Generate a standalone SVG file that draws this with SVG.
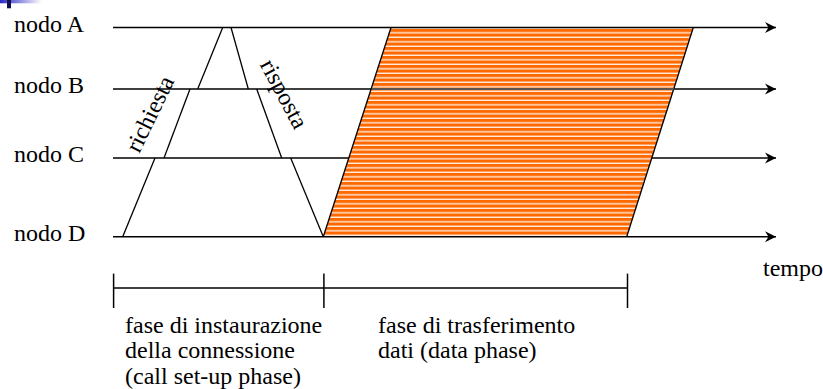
<svg xmlns="http://www.w3.org/2000/svg" width="823" height="389" viewBox="0 0 823 389">
  <defs>
    <linearGradient id="deco" x1="0" y1="0" x2="1" y2="0">
      <stop offset="0" stop-color="#2a2ac4"/>
      <stop offset="1" stop-color="#ffffff"/>
    </linearGradient>
    <pattern id="stripes" patternUnits="userSpaceOnUse" x="0" y="29" width="10" height="4.5">
      <rect x="0" y="0" width="10" height="4.5" fill="#ff6a00"/>
      <rect x="0" y="3.2" width="10" height="1.2" fill="#ffffff"/>
    </pattern>
    <marker id="arrow" markerUnits="userSpaceOnUse" viewBox="0 0 12 12" refX="11" refY="6" markerWidth="12" markerHeight="12" orient="auto">
      <path d="M0,0.5 L11,6 L0,11.5 L3.5,6 Z" fill="#000"/>
    </marker>
  </defs>
  <style>
    .lbl { font-family: "Liberation Serif", "Times New Roman", serif; font-size: 24px; fill: #000; }
    .axis { stroke: #000; stroke-width: 1.5; fill: none; }
    .msg { stroke: #000; stroke-width: 1.3; fill: none; }
  </style>

  <!-- slide decoration -->
  <rect x="0" y="0" width="42" height="3.3" fill="url(#deco)"/>
  <rect x="7" y="0" width="4" height="8.3" fill="#101050"/>

  <g id="connectors">
    <!-- node C time line (passes under the data block) -->
    <line class="axis" x1="113" y1="158" x2="776" y2="158" marker-end="url(#arrow)"/>
    <!-- data phase block -->
    <g id="data-phase">
      <polygon points="391,27.5 693.3,27.5 626.7,236.7 323.3,236.7" fill="url(#stripes)"/>
      <line class="msg" x1="391" y1="27.5" x2="323.3" y2="236.7"/>
      <line class="msg" x1="693.3" y1="27.5" x2="626.7" y2="236.7"/>
    </g>
    <line class="axis" x1="113" y1="27.5" x2="776" y2="27.5" marker-end="url(#arrow)"/>
    <line class="axis" x1="113" y1="89" x2="776" y2="89" marker-end="url(#arrow)"/>
    <line x1="371.7" y1="89" x2="674" y2="89" stroke="#6a6a6a" stroke-width="1.5"/>
    <line class="axis" x1="113" y1="236.7" x2="776" y2="236.7" marker-end="url(#arrow)"/>

    <!-- richiesta -->
    <line class="msg" x1="122.7" y1="236.7" x2="155" y2="158"/>
    <line class="msg" x1="164" y1="158" x2="190" y2="89"/>
    <line class="msg" x1="197.7" y1="89" x2="222.7" y2="27.5"/>
    <!-- risposta -->
    <line class="msg" x1="231" y1="27.5" x2="248.3" y2="89"/>
    <line class="msg" x1="256.7" y1="89" x2="281.7" y2="158"/>
    <line class="msg" x1="290.7" y1="158" x2="323.3" y2="236.7"/>

    <!-- phase timeline -->
    <line class="axis" x1="113.6" y1="288" x2="627.5" y2="288"/>
    <line class="axis" x1="113.6" y1="273.6" x2="113.6" y2="308"/>
    <line class="axis" x1="323.9" y1="273.6" x2="323.9" y2="308"/>
    <line class="axis" x1="627.5" y1="273.6" x2="627.5" y2="308"/>
  </g>

  <g id="nodeA"><text class="lbl" x="14" y="31.5">nodo A</text></g>
  <g id="nodeB"><text class="lbl" x="14" y="93">nodo B</text></g>
  <g id="nodeC"><text class="lbl" x="14" y="162">nodo C</text></g>
  <g id="nodeD"><text class="lbl" x="14" y="241">nodo D</text></g>

  <g id="label-richiesta">
    <text class="lbl" text-anchor="middle" transform="translate(152,115) rotate(-64)" y="5.5">richiesta</text>
  </g>
  <g id="label-risposta">
    <text class="lbl" text-anchor="middle" transform="translate(282,95) rotate(62)" y="5.5">risposta</text>
  </g>

  <g id="label-tempo"><text class="lbl" x="763" y="276">tempo</text></g>

  <g id="phase-setup">
    <text class="lbl" x="125" y="332.5">fase di instaurazione</text>
    <text class="lbl" x="125" y="358">della connessione</text>
    <text class="lbl" x="125" y="383.5">(call set-up phase)</text>
  </g>
  <g id="phase-data">
    <text class="lbl" x="378" y="332.5">fase di trasferimento</text>
    <text class="lbl" x="378" y="358">dati (data phase)</text>
  </g>
</svg>
